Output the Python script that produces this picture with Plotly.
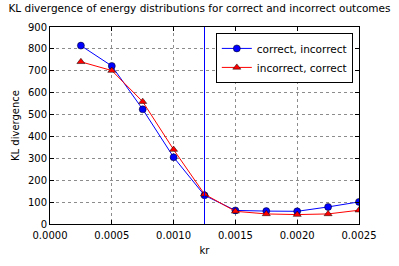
import plotly.graph_objects as go

kr = [0.00025, 0.0005, 0.00075, 0.001, 0.00125, 0.0015, 0.00175, 0.002, 0.00225, 0.0025]
correct_incorrect = [815, 722, 524, 305, 131, 62, 59, 58, 78, 101]
incorrect_correct = [741, 701, 559, 340, 136, 58, 46, 43, 46, 63]
threshold = 0.00125

font = "DejaVu Sans"
fig = go.Figure()
fig.add_trace(go.Scatter(
    x=kr, y=correct_incorrect, mode="lines+markers", name="correct, incorrect",
    line=dict(color="#0000ff", width=1),
    marker=dict(symbol="circle", size=7, color="#0000ff", line=dict(color="black", width=0.5)),
))
fig.add_trace(go.Scatter(
    x=kr, y=incorrect_correct, mode="lines+markers", name="incorrect, correct",
    line=dict(color="#ff0000", width=1),
    marker=dict(symbol="triangle-up", size=7, color="#ff0000", line=dict(color="black", width=0.5)),
))
fig.add_vline(x=threshold, line=dict(color="#0000ff", width=1))

axis_common = dict(
    showline=True, linecolor="black", linewidth=1, mirror="allticks",
    ticks="inside", ticklen=4, tickcolor="black",
    showgrid=True, gridcolor="#8c8c8c", griddash="dot", gridwidth=0.8,
    zeroline=False, tickfont=dict(family=font, size=10, color="black"),
)
fig.update_xaxes(range=[0, 0.0025], dtick=0.0005, tickformat=".4f", ticklabelstandoff=2,
                 title=dict(text="kr", font=dict(family=font, size=10, color="black"), standoff=6),
                 **axis_common)
fig.update_yaxes(range=[0, 900], dtick=100,
                 title=dict(text="KL divergence", font=dict(family=font, size=10, color="black"), standoff=6),
                 **axis_common)
fig.update_layout(
    width=399, height=266,
    margin=dict(l=50, r=40, t=27, b=34),
    paper_bgcolor="white", plot_bgcolor="white",
    title=dict(text="KL divergence of energy distributions for correct and incorrect outcomes",
               x=0.5, xref="container", xanchor="center", y=1, yref="container", yanchor="top", pad=dict(t=5),
               font=dict(family=font, size=10.5, color="black")),
    legend=dict(x=0.98, y=0.97, xanchor="right", yanchor="top",
                bordercolor="black", borderwidth=1, bgcolor="white",
                font=dict(family=font, size=10.5, color="black"),
                tracegroupgap=0, itemwidth=30),
    showlegend=True,
)
fig.write_html("out.html", config={"displayModeBar": False},
               post_script="document.body.style.margin='0';document.body.style.overflow='hidden';")
